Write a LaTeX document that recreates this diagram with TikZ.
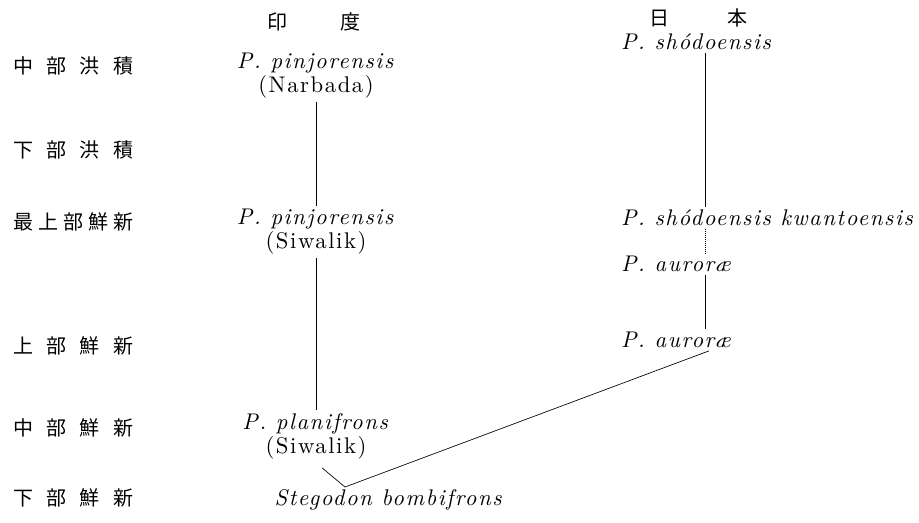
\documentclass[tikz,border=0pt]{standalone}
\usepackage{fontspec}
\newfontfamily\jfont{Noto Sans CJK JP}
\newfontfamily\taxfont{lmroman10-regular}[Extension=.otf, ItalicFont=lmroman10-italic, LetterSpace=7]
\usetikzlibrary{positioning}

\begin{document}
\begin{tikzpicture}[x=0.75pt, y=-0.75pt,
  every node/.style={inner sep=2pt},
  taxon/.style={align=center, font=\taxfont\fontsize{17}{18}\selectfont},
  period/.style={anchor=west, inner sep=0pt, font=\jfont\fontsize{15}{15}\selectfont},
  head/.style={inner sep=0pt, font=\jfont\fontsize{15}{15}\selectfont},
  line width=0.5pt
]
\useasboundingbox (0,0) rectangle (919,522);

% -------- Epoch labels (left) --------
\node[period] (e1) at (13,66)  {\makebox[90pt][s]{中\hfill 部\hfill 洪\hfill 積}};
\node[period] (e2) at (13,150) {\makebox[90pt][s]{下\hfill 部\hfill 洪\hfill 積}};
\node[period] (e3) at (13,222) {\makebox[90pt][s]{最\hfill 上\hfill 部\hfill 鮮\hfill 新}};
\node[period] (e4) at (13,346) {\makebox[90pt][s]{上\hfill 部\hfill 鮮\hfill 新}};
\node[period] (e5) at (13,428) {\makebox[90pt][s]{中\hfill 部\hfill 鮮\hfill 新}};
\node[period] (e6) at (13,498) {\makebox[90pt][s]{下\hfill 部\hfill 鮮\hfill 新}};

% -------- Column heads --------
\node[head] (h1) at (277,22) {印};
\node[head] (h2) at (350,22) {度};
\node[head] (h3) at (659,18) {日};
\node[head] (h4) at (737,18) {本};

% -------- India --------
\node[taxon] (pn) at (316,76)  {\textit{P. pinjorensis}\\(Narbada)};
\node[taxon] (ps) at (316,232) {\textit{P. pinjorensis}\\(Siwalik)};
\node[taxon] (pp) at (316,436) {\textit{P. planifrons}\\(Siwalik)};
\node[taxon] (sb) at (389,500) {\textit{Stegodon bombifrons}};

\draw (pn) -- (ps);
\draw (ps) -- (pp);

% -------- Japan --------
\node[taxon, anchor=west] (sh) at (618,42)  {\textit{P. shódoensis}};
\node[taxon, anchor=west] (sk) at (618,218) {\textit{P. shódoensis kwantoensis}};
\node[taxon, anchor=west] (a1) at (618,264) {\textit{P. auroræ}};
\node[taxon, anchor=west] (a2) at (618,340) {\textit{P. auroræ}};

\coordinate (jx) at (705,0);
\draw (sh.south -| jx) -- (sk.north -| jx);
\draw[densely dotted] (sk.south -| jx) -- (a1.north -| jx);
\draw (a1.south -| jx) -- (a2.north -| jx);

% -------- Fork --------
\coordinate (fork) at (345,487);
\draw ([shift={(6,6)}]pp.south) -- (fork) -- ([xshift=3pt]a2.south -| jx);

\end{tikzpicture}
\end{document}
